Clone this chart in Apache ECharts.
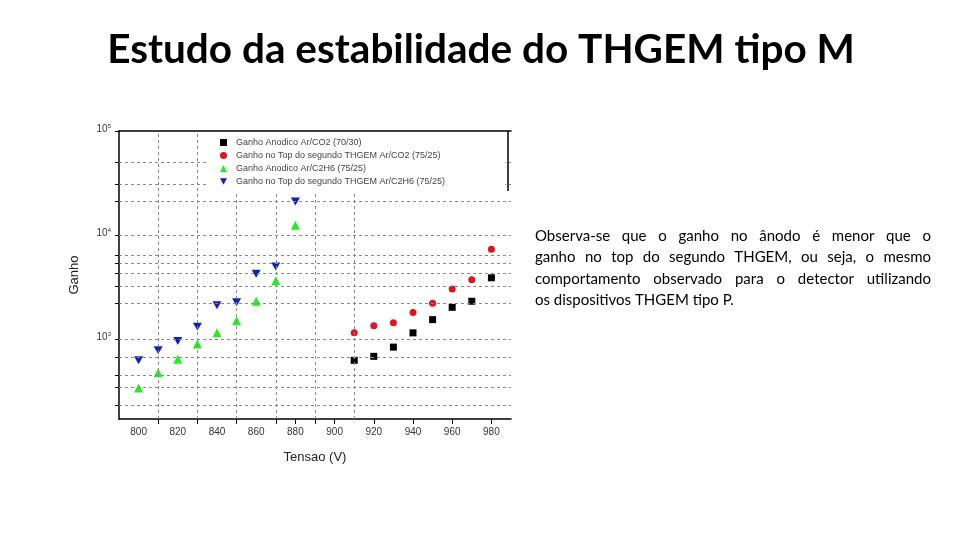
<!DOCTYPE html>
<html><head><meta charset="utf-8">
<script src="https://cdn.jsdelivr.net/npm/echarts@6/dist/echarts.min.js"></script>
<style>html,body{margin:0;padding:0;background:#fff}#c{width:960px;height:540px}</style>
</head><body><div id="c"></div>
<script>
const titleText = 'Estudo da estabilidade do THGEM tipo M';
const voltagesCO2 = [910, 920, 930, 940, 950, 960, 970, 980];
const anodeCO2 = [623, 681, 835, 1145, 1535, 2014, 2306, 3876];
const topCO2 = [1145, 1341, 1435, 1798, 2203, 3020, 3705, 7295];
const voltagesC2H6 = [800, 810, 820, 830, 840, 850, 860, 870, 880];
const anodeC2H6 = [338, 474, 637, 893, 1145, 1501, 2306, 3623, 12420];
const topC2H6 = [623, 780, 956, 1311, 2109, 2253, 4238, 4965, 20940];
const seriesNames = [
  'Ganho Anodico Ar/CO2 (70/30)',
  'Ganho no Top do segundo THGEM Ar/CO2 (75/25)',
  'Ganho Anodico Ar/C2H6 (75/25)',
  'Ganho no Top do segundo THGEM Ar/C2H6 (75/25)'
];
const xLabelValues = [800, 820, 840, 860, 880, 900, 920, 940, 960, 980];
const xTickValues = [810, 830, 850, 870, 880, 890, 900, 920, 940, 960, 980];
const xGridValues = [810, 830, 850, 870, 890, 910];
const yLabelValues = [1000, 10000, 100000];
const yGridValues = [230, 340, 450, 670, 1000, 2200, 3200, 4300, 5400, 6400, 10000, 21000, 31000, 50000];
const bodyLines = [
  'Observa-se que o ganho no ânodo é menor que o',
  'ganho no top do segundo THGEM, ou seja, o mesmo',
  'comportamento observado para o detector utilizando',
  'os dispositivos THGEM tipo P.'
];

const zip = (xs, ys) => xs.map((x, i) => [x, ys[i]]);
const chart = echarts.init(document.getElementById('c'));

// justified body text
const bodyFont = '15px Lato';
const cnv = document.createElement('canvas').getContext('2d');
cnv.font = bodyFont;
const bodyLeft = 535, bodyWidth = 396, bodyTop = 236, lineH = 21.5;
const graphics = [];
bodyLines.forEach((line, li) => {
  const y = bodyTop + li * lineH;
  const words = line.split(' ');
  const last = li === bodyLines.length - 1;
  if (last) {
    graphics.push({type: 'text', x: bodyLeft, y: y, silent: true,
      style: {text: line, font: bodyFont, fill: '#000', textVerticalAlign: 'middle'}});
    return;
  }
  const widths = words.map(w => cnv.measureText(w).width);
  const total = widths.reduce((a, b) => a + b, 0);
  const gap = (bodyWidth - total) / (words.length - 1);
  let x = bodyLeft;
  words.forEach((w, i) => {
    graphics.push({type: 'text', x: x, y: y, silent: true,
      style: {text: w, font: bodyFont, fill: '#000', textVerticalAlign: 'middle'}});
    x += widths[i] + gap;
  });
});
graphics.push({type: 'text', x: 481, y: 50, silent: true,
  style: {text: titleText, font: 'bold 40.5px Lato', fill: '#000', textAlign: 'center', textVerticalAlign: 'middle'}});
graphics.push({type: 'line', z: 100, silent: true, shape: {x1: 508, y1: 131, x2: 508, y2: 191},
  style: {stroke: '#000', lineWidth: 1.5}});

const axisFont = {fontFamily: 'Arial, Liberation Sans', fontSize: 10, color: '#333'};
const downTri = 'path://M0,0L10,0L5,9Z';

chart.setOption({
  animation: false,
  backgroundColor: '#fff',
  graphic: graphics,
  grid: {left: 119, right: 449, top: 131, bottom: 121},
  legend: {
    orient: 'vertical', left: 208, top: 132, padding: [6, 60, 5, 12], z: 50,
    backgroundColor: '#fff', itemWidth: 7, itemHeight: 7, itemGap: 4,
    textStyle: {fontFamily: 'Arial, Liberation Sans', fontSize: 9, color: '#444', padding: [0, 0, 0, 4]},
    data: [
      {name: seriesNames[0], icon: 'rect'},
      {name: seriesNames[1], icon: 'circle'},
      {name: seriesNames[2], icon: 'triangle'},
      {name: seriesNames[3], icon: downTri}
    ]
  },
  xAxis: [{
    type: 'value', min: 790, max: 990, interval: 10,
    axisLine: {lineStyle: {color: '#000', width: 1.5}},
    axisTick: {length: 5, lineStyle: {color: '#000'}, customValues: xTickValues},
    axisLabel: Object.assign({}, axisFont, {margin: 8, customValues: xLabelValues}),
    splitLine: {show: false},
    name: 'Tensao (V)', nameLocation: 'middle', nameGap: 32,
    nameTextStyle: {fontFamily: 'Arial, Liberation Sans', fontSize: 13, color: '#222'}
  }, {
    type: 'value', position: 'top', min: 790, max: 990,
    axisLine: {show: true, onZero: false, lineStyle: {color: '#000', width: 1.5}},
    axisTick: {show: false}, axisLabel: {show: false}, splitLine: {show: false}
  }],
  yAxis: {
    type: 'log', logBase: 10, min: 170, max: 100000,
    axisLine: {show: true, lineStyle: {color: '#000', width: 1.5}},
    axisTick: {show: true, length: 4, lineStyle: {color: '#000'},
      customValues: yLabelValues.concat(yGridValues)},
    axisLabel: Object.assign({}, axisFont, {
      customValues: yLabelValues,
      padding: [0, 0, 4, 0],
      formatter: v => '10{s|' + Math.round(Math.log10(v)) + '}',
      rich: {s: {fontSize: 6, verticalAlign: 'top', padding: [0, 0, 6, 0], color: '#333'}}
    }),
    splitLine: {show: false},
    name: 'Ganho', nameLocation: 'middle', nameGap: 38, nameRotate: 90,
    nameTextStyle: {fontFamily: 'Arial, Liberation Sans', fontSize: 13, color: '#222'}
  },
  series: [
    {
      name: seriesNames[0], type: 'scatter', symbol: 'rect', symbolSize: 7,
      itemStyle: {color: '#000', opacity: 1}, data: zip(voltagesCO2, anodeCO2),
      markLine: {
        silent: true, symbol: 'none', animation: false, label: {show: false},
        lineStyle: {type: [3, 3], color: '#888', width: 1},
        data: xGridValues.map(v => ({xAxis: v})).concat(yGridValues.map(v => ({yAxis: v})))
      }
    },
    {name: seriesNames[1], type: 'scatter', symbol: 'circle', symbolSize: 7,
      itemStyle: {color: '#e0141c', opacity: 1}, data: zip(voltagesCO2, topCO2)},
    {name: seriesNames[2], type: 'scatter', symbol: 'triangle', symbolSize: 9,
      itemStyle: {color: '#22ee22', opacity: 1}, data: zip(voltagesC2H6, anodeC2H6)},
    {name: seriesNames[3], type: 'scatter', symbol: downTri, symbolSize: [9, 8],
      itemStyle: {color: '#1020c0', opacity: 1}, data: zip(voltagesC2H6, topC2H6)}
  ]
});
</script></body></html>
